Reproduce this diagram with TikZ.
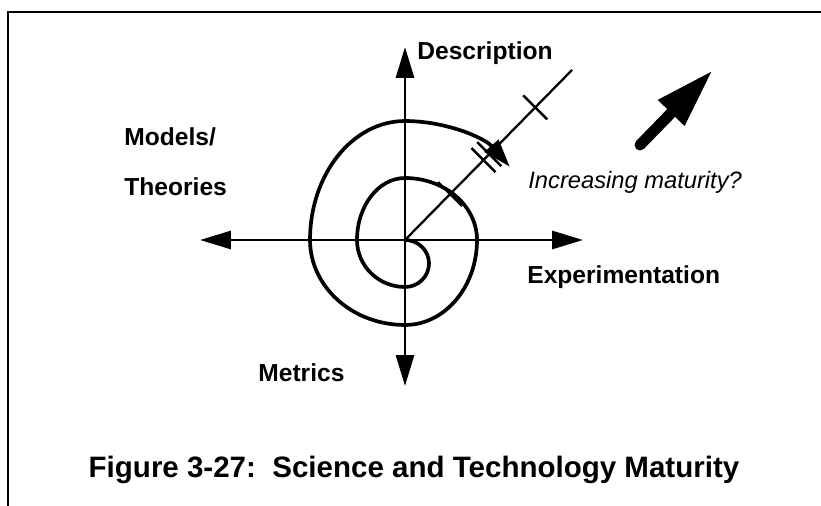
\documentclass[tikz,border=0pt]{standalone}
\usepackage{fontspec}
\setmainfont{Liberation Sans}
\usetikzlibrary{arrows.meta}

\begin{document}
\begin{tikzpicture}[
                x=0.02cm, y=-0.02cm,
                frame/.style={line width=1.1pt},
                axis/.style={line width=1.7pt, {Triangle[length=0.62cm, width=0.36cm]}-{Triangle[length=0.62cm, width=0.36cm]}},
                diagline/.style={line width=1.3pt},
                tickmark/.style={line width=1.4pt},
                spiral/.style={line width=2.1pt, -{Triangle[length=0.56cm, width=0.36cm]}},
                bigarrow/.style={line width=0.22cm, line cap=round, -{Triangle[length=1.2cm, width=0.68cm]}},
                axlabel/.style={inner sep=0pt, font=\bfseries\fontsize{14}{16}\selectfont},
                caption/.style={inner sep=0pt, font=\bfseries\fontsize{16.8}{19}\selectfont}
            ]
            \useasboundingbox (0,0) rectangle (821,506);

            % Rahmen
            \coordinate (fl) at (8,506);
            \coordinate (fc) at (8,12);
            \coordinate (fr) at (821,12);
            \draw[frame] (fl) -- (fc) -- (fr);

            % Achsen
            \coordinate (O) at (405,240);
            \coordinate (vtop) at (405,47);
            \coordinate (vbot) at (405,386);
            \coordinate (hleft) at (200,240);
            \coordinate (hright) at (583,240);
            \coordinate (dend) at (572,70);
            \draw[axis] (vbot) -- (vtop);
            \draw[axis] (hleft) -- (hright);

            % Diagonale mit Markierungen
            \draw[diagline] (O) -- (dend) coordinate[pos=0.27] (t1) coordinate[pos=0.47] (t2) coordinate[pos=0.505] (t3) coordinate[pos=0.78] (t4);
            \foreach \t in {t1, t2, t3, t4}
                \draw[tickmark] ([shift={(-12,-12)}]\t) -- ([shift={(12,12)}]\t);

            % Spirale
            \draw[spiral] (O)
                arc[start angle=90, end angle=-90, x radius=0.48cm, y radius=0.47cm]
                arc[start angle=-90, end angle=-180, x radius=0.96cm, y radius=0.94cm]
                arc[start angle=-180, end angle=-270, x radius=0.96cm, y radius=1.24cm]
                arc[start angle=-270, end angle=-360, x radius=1.44cm, y radius=1.24cm]
                arc[start angle=-360, end angle=-450, x radius=1.44cm, y radius=1.7cm]
                arc[start angle=-450, end angle=-540, x radius=1.9cm, y radius=1.7cm]
                arc[start angle=-540, end angle=-630, x radius=1.9cm, y radius=2.38cm]
                arc[start angle=-630, end angle=-682, x radius=2.66cm, y radius=2.38cm];

            % Reifepfeil
            \coordinate (mtail) at (640,145);
            \coordinate (mtip) at (713,70);
            \draw[bigarrow] (mtail) -- (mtip);

            % Beschriftungen
            \node[axlabel, anchor=base west] (desc) at (417,60) {Description};
            \node[axlabel, anchor=base west] (models) at (124,146) {Models/};
            \node[axlabel, anchor=base west] (theories) at (124,196) {Theories};
            \node[axlabel, anchor=base west] (exper) at (527,284) {Experimentation};
            \node[axlabel, anchor=base west] (metrics) at (258,381) {Metrics};
            \node[inner sep=0pt, anchor=base west, font=\itshape\fontsize{13.5}{16}\selectfont] (matur) at (528,189) {Increasing maturity?};
            \node[caption, anchor=base] (cap) at (414,477) {Figure 3-27:\ \ Science and Technology Maturity};

        \end{tikzpicture}
\end{document}
